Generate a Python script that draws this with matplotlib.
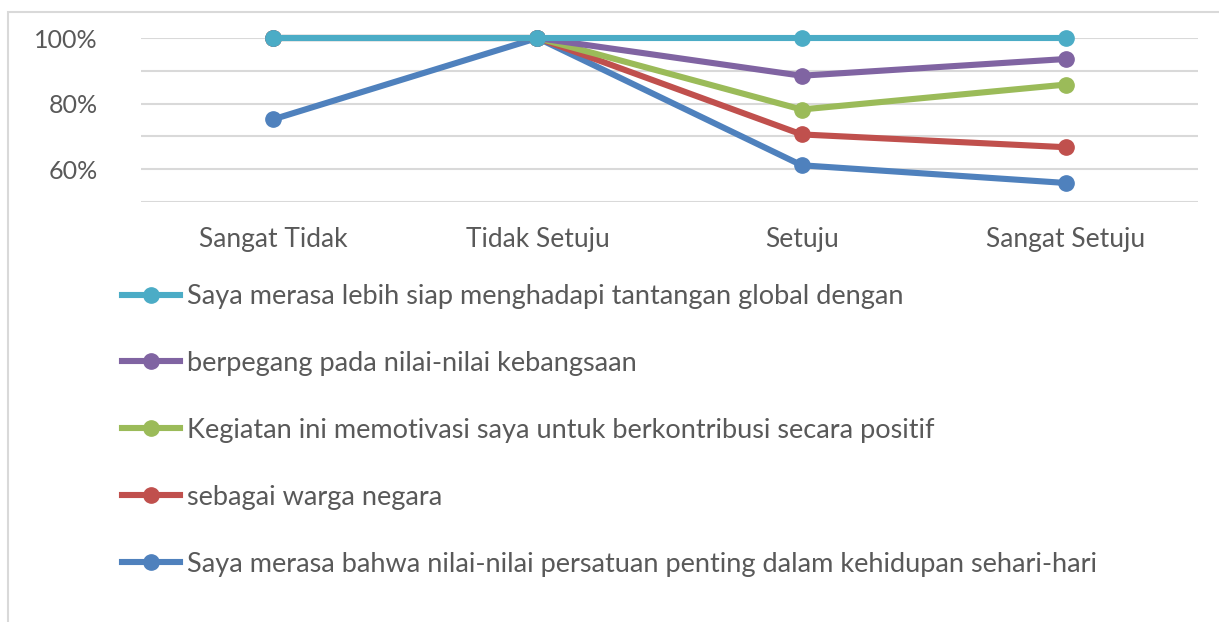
import matplotlib
matplotlib.use('Agg')
import matplotlib.pyplot as plt
from matplotlib.patches import Rectangle
from matplotlib.ticker import PercentFormatter, MultipleLocator

categories = ['Sangat Tidak', 'Tidak Setuju', 'Setuju', 'Sangat Setuju']

labels = [
    'Saya merasa lebih siap menghadapi tantangan global dengan',
    'berpegang pada nilai-nilai kebangsaan',
    'Kegiatan ini memotivasi saya untuk berkontribusi secara positif',
    'sebagai warga negara',
    'Saya merasa bahwa nilai-nilai persatuan penting dalam kehidupan sehari-hari',
]
cyan_vals = [100, 100, 100, 100]
purple_vals = [100, 100, 88.5, 93.6]
green_vals = [100, 100, 78.2, 85.8]
red_vals = [100, 100, 70.6, 66.7]
blue_vals = [75.2, 100, 61.2, 55.8]

colors = ['#4BACC6', '#8064A2', '#9BBB59', '#C0504D', '#4F81BD']
series = [cyan_vals, purple_vals, green_vals, red_vals, blue_vals]

plt.rcParams['font.family'] = ['Lato', 'DejaVu Sans']
text_color = '#595959'

fig = plt.figure(figsize=(12.19, 6.22), dpi=100)
ax = fig.add_axes([141 / 1219, 1 - 202 / 622, 1057 / 1219, 164 / 622])

x = list(range(len(categories)))
lines = []
# blue drawn first so cyan sits on top
for vals, col, lab, z in reversed(list(zip(series, colors, labels, range(5, 0, -1)))):
    ln, = ax.plot(x, vals, color=col, lw=4.4, marker='o', markersize=11,
                  label=lab, clip_on=False, zorder=z + 2)
    lines.append(ln)
lines = lines[::-1]

ax.set_xlim(-0.5, len(categories) - 0.5)
ax.set_ylim(50, 100)
ax.yaxis.set_minor_locator(MultipleLocator(10))
ax.yaxis.set_major_formatter(PercentFormatter(decimals=0))
ax.set_yticks([60, 80, 100])
ax.grid(True, axis='y', which='both', color='#D9D9D9', lw=1.5)
ax.set_axisbelow(True)
for s in ax.spines.values():
    s.set_visible(False)
ax.tick_params(axis='both', which='both', length=0, colors=text_color)
ax.tick_params(axis='y', pad=31, labelsize=18)
ax.tick_params(axis='x', pad=18, labelsize=19)
ax.set_xticks(x)
ax.set_xticklabels(categories)

fig.legend(handles=lines, labels=labels, loc='upper left',
           bbox_to_anchor=(122 / 1219, 1 - 284 / 622), frameon=False,
           fontsize=19.5, labelcolor=text_color, handlelength=2.15,
           handletextpad=0.25, labelspacing=1.55, borderaxespad=0,
           borderpad=0)

# outer chart border (cropped at right and bottom)
fig.patches.append(Rectangle((8 / 1219, -0.2), 1.2, 1.2 - 12 / 622,
                             transform=fig.transFigure, fill=False,
                             edgecolor='#D9D9D9', lw=1.5))

fig.savefig('out.png', dpi=100)
